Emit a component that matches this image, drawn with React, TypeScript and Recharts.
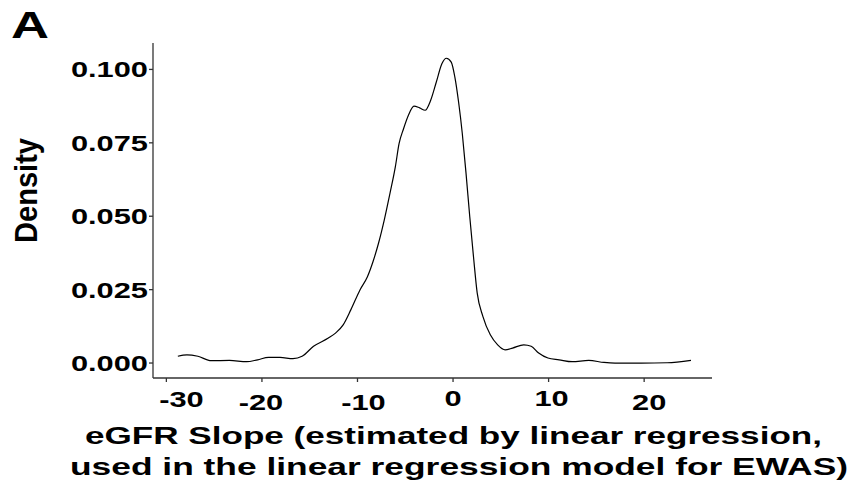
import React from 'react'
import { LineChart, Line, XAxis, YAxis, Customized } from 'recharts'

// density estimate
const slope = [
    -28.8, -27.85, -26.7, -25.3, -23.4, -21.6, -20.45, -19.3, -18.1, -16.75, -15.8, -14.6,
    -13.05, -12.3, -11.5, -10.7, -9.74, -8.96, -8.38, -7.8, -7.2, -6.6, -6.04, -5.65, -5.18,
    -4.67, -4.09, -3.5, -2.92, -2.34, -1.75, -1.17, -0.7, -0.19, 0.19, 0.58, 0.97, 1.36, 1.75,
    2.14, 2.53, 3.12, 3.9, 4.67, 5.45, 6.23, 7.4, 8.18, 8.96, 9.93, 11.1, 12.47, 14.2, 15.8,
    16.95, 19.7, 22.4, 24.9,
]
const density = [
    0.0023, 0.0028, 0.0023, 0.0008, 0.0009, 0.00045, 0.0011, 0.0019, 0.0019, 0.0015, 0.0023, 0.0057,
    0.0085, 0.0102, 0.013, 0.0181, 0.0249, 0.0294, 0.0345, 0.0408, 0.0487, 0.0578, 0.0668, 0.0747, 0.0798,
    0.0844, 0.0875, 0.0869, 0.0861, 0.0895, 0.0957, 0.1019, 0.1038, 0.1025, 0.0974, 0.0889, 0.0781, 0.0646, 0.0498,
    0.0362, 0.0238, 0.0159, 0.0096, 0.0062, 0.0045, 0.0051, 0.0062, 0.0057, 0.0034, 0.0017, 0.0011, 0.00045, 0.0009, 0.0002,
    0, 0, 0.0001, 0.0009,
]
const xTicks = [-30, -20, -10, 0, 10, 20]
const yTicks = [0, 0.025, 0.05, 0.075, 0.1]

const data = slope.map((x, i) => ({ x, y: density[i] }))

const FONT = '"Liberation Sans", Arial, sans-serif'
const STRETCH = 1.4 // the source figure's text is wide

// the original tick labels sit a little off their ticks
const xLabelNudge: Record<number, [number, number]> = {
    [-30]: [15, 1], [-20]: [-1, 4], [-10]: [6, 4], [0]: [0, 0], [10]: [3, 0], [20]: [5, 4],
}

const XTick = (props: any) => {
    const { x, y, payload } = props
    const [dx, dy] = xLabelNudge[payload.value] ?? [0, 0]
    return (
        <g transform={`translate(${x + dx},${y + 22 + dy}) scale(${STRETCH},1)`}>
            <text x={0} y={0} textAnchor="middle" fontFamily={FONT} fontWeight="bold" fontSize={22} fill="#000">
                {payload.value}
            </text>
        </g>
    )
}

const YTick = (props: any) => {
    const { y, payload } = props
    return (
        <g transform={`translate(148,${y + 8}) scale(${STRETCH},1)`}>
            <text x={0} y={0} textAnchor="end" fontFamily={FONT} fontWeight="bold" fontSize={22} fill="#000">
                {Number(payload.value).toFixed(3)}
            </text>
        </g>
    )
}

const Labels = () => (
    <g fontFamily={FONT} fontWeight="bold" fill="#000">
        <text x={11} y={38} fontSize={36} textLength={38} lengthAdjust="spacingAndGlyphs">A</text>
        <text
            x={0}
            y={0}
            fontSize={32}
            textAnchor="middle"
            textLength={105}
            lengthAdjust="spacingAndGlyphs"
            transform="translate(37,190.5) rotate(-90)"
        >
            Density
        </text>
        <text x={85} y={443.5} fontSize={23.5} textLength={737} lengthAdjust="spacingAndGlyphs">
            eGFR Slope (estimated by linear regression,
        </text>
        <text x={70} y={475} fontSize={23.5} textLength={778} lengthAdjust="spacingAndGlyphs">
            used in the linear regression model for EWAS)
        </text>
    </g>
)

const App: React.FC = () => {
    return (
        <div style={{ position: 'absolute', left: 0, top: 0, background: '#fff' }}>
            <LineChart
                width={857}
                height={487}
                data={data}
                margin={{ top: 43, right: 145, bottom: 0, left: 0 }}
            >
                <XAxis
                    type="number"
                    dataKey="x"
                    domain={[-31.4, 27.1]}
                    ticks={xTicks}
                    height={109}
                    stroke="#333"
                    strokeWidth={1.3}
                    tickSize={4}
                    tick={<XTick />}
                    allowDataOverflow
                />
                <YAxis
                    type="number"
                    domain={[-0.0051, 0.109]}
                    ticks={yTicks}
                    width={153}
                    stroke="#333"
                    strokeWidth={1.3}
                    tickSize={4}
                    tick={<YTick />}
                    allowDataOverflow
                />
                <Line
                    type="monotone"
                    dataKey="y"
                    stroke="#000"
                    strokeWidth={1.2}
                    dot={false}
                    isAnimationActive={false}
                />
                <Customized component={Labels} />
            </LineChart>
        </div>
    )
}

export default App
